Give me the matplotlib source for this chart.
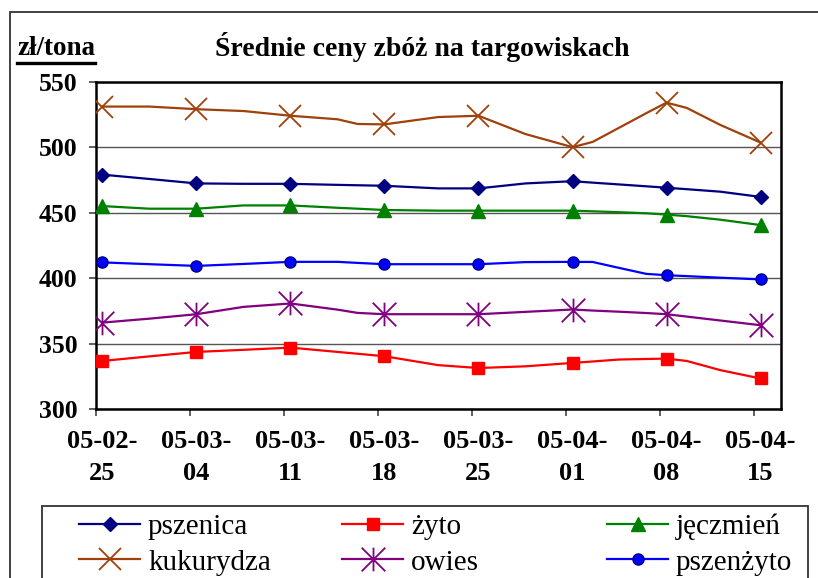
import numpy as np
import matplotlib
matplotlib.use("Agg")
import matplotlib.pyplot as plt
from matplotlib.path import Path
from matplotlib.lines import Line2D
from matplotlib.patches import Rectangle

plt.rcParams['font.family'] = ['Liberation Serif', 'DejaVu Serif']

# ---- data (days counted from 05-02-25) ----
days = [0, 3.5, 7, 10.5, 14, 17.5, 19, 21, 25, 28, 31.5, 35, 36.5, 38.5, 40.5, 42, 43.5, 46, 49]
week_days = [0, 7, 14, 21, 28, 35, 42, 49]
tick_labels = ["05-02-\n25", "05-03-\n04", "05-03-\n11", "05-03-\n18",
               "05-03-\n25", "05-04-\n01", "05-04-\n08", "05-04-\n15"]

pszenica   = [479, 475.7, 472.3, 472, 472, 471.2, 470.9, 470.5, 468.5, 468.5, 472.3, 474, 472.9, 471.5, 470.1, 469, 467.9, 466, 462]
zyto       = [336.7, 340.2, 343.6, 345.2, 346.9, 343.6, 342.2, 340.3, 333.5, 331.3, 332.6, 335.2, 336.3, 337.8, 338.2, 338.5, 336.7, 329.7, 323.3]
jeczmien   = [455, 453, 453, 455.5, 455.5, 453.7, 453, 452, 451.5, 451.5, 451.5, 451.5, 451, 450.3, 449.5, 448.5, 447.3, 444.6, 440.5]
kukurydza  = [531, 531, 529, 527.6, 524, 521.3, 517.7, 517.4, 523, 524, 510, 500, 504, 515, 526, 534, 530, 517, 503.5]
owies      = [366, 369, 372.4, 378, 380.6, 375.9, 373.4, 372.4, 372.4, 372.4, 374.2, 376, 375.2, 374.3, 373.3, 372.4, 370.6, 367.6, 364]
pszenzyto  = [412, 410.6, 409.3, 410.8, 412.4, 412.4, 411.6, 410.6, 410.6, 410.6, 412.2, 412.4, 412.3, 407.7, 403.2, 402.2, 401.5, 400.3, 399]

names = ["pszenica", "żyto", "jęczmień", "kukurydza", "owies", "pszenżyto"]

# ---- figure ----
W, H = 818, 578
fig = plt.figure(figsize=(W / 100, H / 100), dpi=100)
L, R, T, B = 95.7, 780.7, 81.7, 409
ax = fig.add_axes([L / W, 1 - B / H, (R - L) / W, (B - T) / H])

star = Path([(0, -1), (0, 1), (-1, -1), (1, 1), (-1, 1), (1, -1)],
            [Path.MOVETO, Path.LINETO, Path.MOVETO, Path.LINETO, Path.MOVETO, Path.LINETO])

mk_idx = [days.index(d) for d in week_days]

styles = [
    (pszenica,  dict(color='#000080', marker='D', ms=7, mfc='#000080', mec='#000080')),
    (zyto,      dict(color='#FF0000', marker='s', ms=8, mfc='#FF0000', mec='#FF0000')),
    (jeczmien,  dict(color='#008000', marker='^', ms=10, mfc='#008000', mec='#008000')),
    (kukurydza, dict(color='#A0400A', marker='x', ms=16, mew=1.3)),
    (owies,     dict(color='#800080', marker=star, ms=17, mew=1.3)),
    (pszenzyto, dict(color='#0000FF', marker='o', ms=8, mfc='#0000FF', mec='#000080', mew=1.0)),
]
handles = []
for (vals, st), name in zip(styles, names):
    h, = ax.plot(days, vals, lw=1.6, markevery=mk_idx, label=name, zorder=3, **st)
    handles.append(h)

ax.set_xlim(-0.5, 50.5)
ax.set_ylim(300, 550)
ax.set_yticks(np.arange(300, 551, 50))
ax.yaxis.grid(True, color='#555555', lw=1.0)
ax.set_axisbelow(True)

ax.set_xticks(np.arange(-0.5, 50, 7))
ax.set_xticklabels([])
ax.set_xticks(week_days, minor=True)
ax.set_xticklabels(tick_labels, minor=True, fontsize=19, fontweight='bold', linespacing=1.5)
ax.tick_params(axis='x', which='major', direction='out', length=5, width=1.2, color='#444444')
ax.tick_params(axis='x', which='minor', length=0, pad=15)
ax.tick_params(axis='y', direction='out', length=5, width=1.2, color='#444444', pad=8)
for lab in ax.get_yticklabels():
    lab.set_fontsize(18.5)
    lab.set_fontweight('bold')

for s in ax.spines.values():
    s.set_color('black')
    s.set_linewidth(1.8)

# title and unit label
fig.text(422 / W, 1 - 47 / H, "Średnie ceny zbóż na targowiskach", ha='center', va='center',
         fontsize=20, fontweight='bold')
unit = fig.text(17 / W, 1 - 55 / H, "zł/tona", ha='left', va='baseline', fontsize=19.5, fontweight='bold')

# outer chart frame (cut by figure edge)
fig.add_artist(Rectangle((10 / W, -0.2), 1.5, 1.2 - 12 / H, transform=fig.transFigure,
                         fill=False, edgecolor='#333333', lw=1.3, clip_on=False))
# legend frame
fig.add_artist(Rectangle((42 / W, -0.2), (808 - 42) / W, 0.2 + 1 - 506 / H, transform=fig.transFigure,
                         fill=False, edgecolor='#333333', lw=1.3, clip_on=False))

col_x = [76, 339, 604]
for i, cx in enumerate(col_x):
    fig.legend([handles[i], handles[i + 3]], [names[i], names[i + 3]],
               loc='upper left', bbox_to_anchor=(cx / W, 1 - 511 / H), frameon=False,
               fontsize=21, handlelength=2.1, handletextpad=0.27, labelspacing=0.3,
               borderpad=0.1, borderaxespad=0)

fig.canvas.draw()
bb = unit.get_window_extent()
yline = bb.y0 - 2
fig.add_artist(Line2D([bb.x0 / W, bb.x1 / W], [yline / H, yline / H], transform=fig.transFigure,
                      color='black', lw=2.4))

fig.savefig("out.png", dpi=100)
